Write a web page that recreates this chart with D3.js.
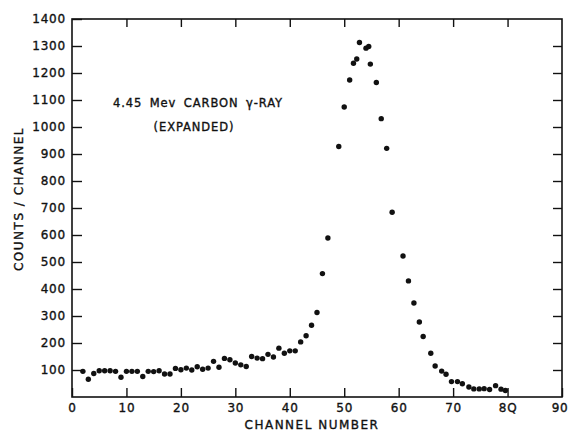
<!DOCTYPE html>
<html>
<head>
<meta charset="utf-8">
<script src="https://cdn.jsdelivr.net/npm/d3@7"></script>
<style>
  html, body { margin: 0; padding: 0; background: #fff; }
  svg { display: block; }
  text { font-family: "DejaVu Sans", sans-serif; fill: #111; stroke: #111; stroke-width: 0.35px; }
</style>
</head>
<body>
<svg id="chart" width="569" height="432"></svg>
<script>
// ---- data ----
const channels = [2,3,4,5,6,7,8,9,10,11,12,13,14,15,16,17,18,19,20,21,22,23,24,25,26,27,28,29,30,31,32,33,34,35,36,37,38,39,40,41,42,43,44,45,46,47,49,50,51,51.7,52.3,52.8,54,54.5,54.8,55.9,56.8,57.8,58.8,60.8,61.8,62.8,63.8,64.5,65.9,66.7,67.9,68.7,69.7,70.8,71.7,72.9,73.8,74.8,75.7,76.7,77.8,78.8,79.6];
const counts   = [95,66,87,97,97,97,95,73,95,95,95,76,95,94,97,85,85,106,101,107,100,112,103,107,132,110,143,138,126,119,113,150,144,142,158,148,181,162,171,171,204,227,266,313,457,589,928,1074,1174,1236,1252,1313,1292,1298,1233,1165,1031,921,684,522,430,348,278,224,162,115,96,84,57,57,49,37,30,30,31,28,42,29,24];
const xTicks = [0,10,20,30,40,50,60,70,80,90];
const xTickLabels = ["0","10","20","30","40","50","60","70","8Q","90"];
const yTicks = [100,200,300,400,500,600,700,800,900,1000,1100,1200,1300,1400];
const xTitle = "CHANNEL NUMBER";
const yTitle = "COUNTS / CHANNEL";
const noteLine1 = "4.45 Mev CARBON \u03B3-RAY";
const noteLine2 = "(EXPANDED)";

// ---- layout ----
const mLeft = 72, mRight = 562, mTop = 19, mBottom = 397;
const svg = d3.select("#chart");
const x = d3.scaleLinear().domain([0, 90]).range([mLeft, mRight]);
const y = d3.scaleLinear().domain([0, 1400]).range([mBottom, mTop]);

// frame
svg.append("rect")
  .attr("x", mLeft).attr("y", mTop)
  .attr("width", mRight - mLeft).attr("height", mBottom - mTop)
  .attr("fill", "none").attr("stroke", "#111").attr("stroke-width", 1.6);

const tickStyle = g => {
  g.select(".domain").remove();
  g.selectAll(".tick line").attr("stroke", "#111").attr("stroke-width", 1.4);
  g.selectAll(".tick text")
    .style("font-family", "'DejaVu Sans', sans-serif")
    .style("font-size", "12px")
    .style("letter-spacing", "0.8px")
    .attr("fill", "#111");
};

// bottom axis
const gx = svg.append("g")
  .attr("transform", `translate(0,${mBottom})`)
  .call(d3.axisBottom(x).tickValues(xTicks)
        .tickFormat((d, i) => xTickLabels[i]).tickSize(-9).tickPadding(6))
  .call(tickStyle);
// keep the last label inside the picture
gx.selectAll(".tick text").filter(d => d === 90)
  .attr("text-anchor", "end").attr("x", 6);

// left axis
svg.append("g")
  .attr("transform", `translate(${mLeft},0)`)
  .call(d3.axisLeft(y).tickValues(yTicks).tickFormat(d3.format("d")).tickSize(-10).tickPadding(6))
  .call(tickStyle);

// top axis (ticks only)
svg.append("g")
  .attr("transform", `translate(0,${mTop})`)
  .call(d3.axisTop(x).tickValues(xTicks.slice(1, -1)).tickFormat("").tickSize(-8))
  .call(tickStyle);

// right axis (ticks only)
svg.append("g")
  .attr("transform", `translate(${mRight},0)`)
  .call(d3.axisRight(y).tickValues(yTicks.slice(0, -1)).tickFormat("").tickSize(-9))
  .call(tickStyle);

// axis titles
svg.append("text")
  .attr("x", 312).attr("y", 429)
  .attr("text-anchor", "middle")
  .style("font-size", "12px")
  .style("letter-spacing", "1.5px")
  .text(xTitle);

svg.append("text")
  .attr("transform", "translate(23,199) rotate(-90)")
  .attr("text-anchor", "middle")
  .style("font-size", "12px")
  .style("letter-spacing", "1.5px")
  .text(yTitle);

// annotation
svg.append("text")
  .attr("x", 113).attr("y", 107)
  .style("font-size", "11.5px")
  .style("letter-spacing", "0.9px")
  .style("word-spacing", "3px")
  .text(noteLine1);
svg.append("text")
  .attr("x", 194).attr("y", 131)
  .attr("text-anchor", "middle")
  .style("font-size", "11.5px")
  .style("letter-spacing", "0.9px")
  .text(noteLine2);

// data points
const pts = channels.map((c, i) => ({c, v: counts[i]}));
svg.append("g").selectAll("circle")
  .data(pts).join("circle")
  .attr("cx", d => x(d.c))
  .attr("cy", d => y(d.v))
  .attr("r", 2.7)
  .attr("fill", "#111");
</script>
</body>
</html>
